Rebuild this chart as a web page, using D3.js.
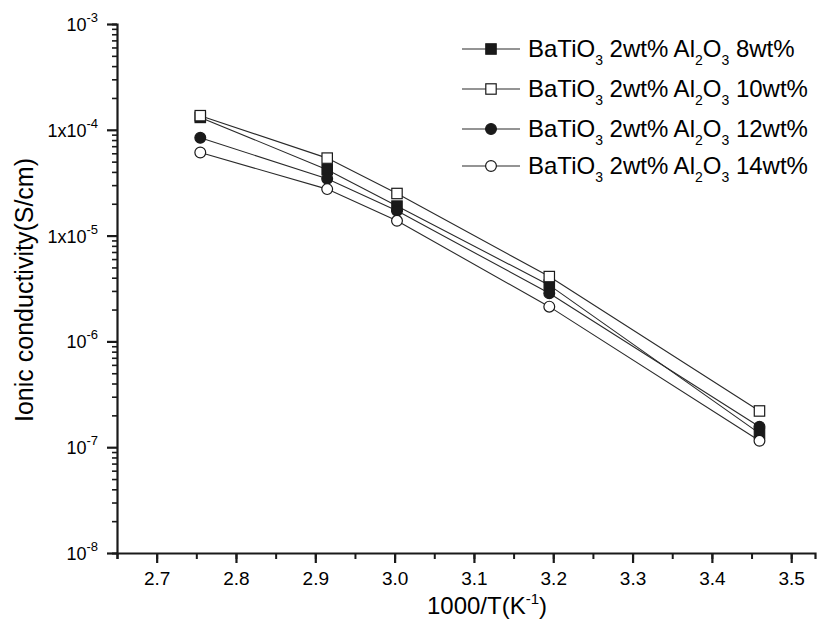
<!DOCTYPE html>
<html lang="en">
<head>
<meta charset="utf-8">
<title>ionic conductivity</title>
<script src="https://cdn.jsdelivr.net/npm/d3@7"></script>
<style>
  body { margin: 0; background: #fff; }
  svg, svg text { font-family: "Liberation Sans", Arial, sans-serif; }
  .axis path, .axis line { stroke: #1a1a1a; }
  .series path { fill: none; stroke: #2a2a2a; stroke-width: 1.1px; }
</style>
</head>
<body>
<svg id="chart" width="829" height="627"></svg>
<script>
// data
var invT = [2.755, 2.915, 3.003, 3.195, 3.46];
var s8   = [1.31e-4, 4.2e-5, 1.9e-5, 3.4e-6, 1.35e-7];
var s10  = [1.36e-4, 5.4e-5, 2.5e-5, 4.1e-6, 2.2e-7];
var s12  = [8.4e-5, 3.45e-5, 1.72e-5, 2.85e-6, 1.56e-7];
var s14  = [6.1e-5, 2.75e-5, 1.38e-5, 2.13e-6, 1.15e-7];
var seriesNames = ["8wt%", "10wt%", "12wt%", "14wt%"];
var xTicks = [2.7, 2.8, 2.9, 3.0, 3.1, 3.2, 3.3, 3.4, 3.5];
var yTickExp = [-3, -4, -5, -6, -7, -8];
var yTickPrefix = ["10", "1x10", "1x10", "10", "10", "10"];

var series = [
  {name: seriesNames[0], values: s8,  shape: "square", fill: "#1a1a1a"},
  {name: seriesNames[1], values: s10, shape: "square", fill: "#fff"},
  {name: seriesNames[2], values: s12, shape: "circle", fill: "#1a1a1a"},
  {name: seriesNames[3], values: s14, shape: "circle", fill: "#fff"}
];

var svg = d3.select("#chart");
var x = d3.scaleLinear().domain([2.65, 3.53]).range([117, 815]);
var y = d3.scaleLog().domain([1e-8, 1e-3]).range([553, 24]);

// x axis
var xMinor = d3.range(2.65, 3.53, 0.05).map(function(d){ return +d.toFixed(2); });
svg.append("g").attr("class", "axis")
  .attr("transform", "translate(0,553)")
  .call(d3.axisBottom(x).tickValues(xMinor).tickSize(6).tickFormat(""))
  .call(function(g){ g.select(".domain").attr("stroke-width", 2.2); g.selectAll("line").attr("stroke-width", 2); });
svg.append("g").attr("class", "axis")
  .attr("transform", "translate(0,553)")
  .call(d3.axisBottom(x).tickValues(xTicks).tickSize(10).tickPadding(9).tickFormat(d3.format(".1f")))
  .call(function(g){
    g.attr("font-family", null);
    g.select(".domain").remove();
    g.selectAll("line").attr("stroke-width", 2.2);
    g.selectAll("text").attr("font-size", 19).attr("fill", "#000");
  });

// y axis
var yMinor = [];
for (var e = -8; e < -3; e++) {
  for (var k = 2; k < 10; k++) yMinor.push(k * Math.pow(10, e));
}
svg.append("g").attr("class", "axis")
  .attr("transform", "translate(117,0)")
  .call(d3.axisLeft(y).tickValues(yMinor).tickSize(5).tickFormat(""))
  .call(function(g){ g.select(".domain").attr("stroke-width", 2.2); g.selectAll("line").attr("stroke-width", 1.6); });
svg.append("g").attr("class", "axis")
  .attr("transform", "translate(117,0)")
  .call(d3.axisLeft(y).tickValues(yTickExp.map(function(d){ return Math.pow(10, d); })).tickSize(10).tickFormat(""))
  .call(function(g){ g.select(".domain").remove(); g.selectAll("line").attr("stroke-width", 2.2); });

yTickExp.forEach(function(ex, i){
  var t = svg.append("text")
    .attr("x", 98).attr("y", y(Math.pow(10, ex)) + 7)
    .attr("text-anchor", "end").attr("font-size", 18).attr("fill", "#000");
  t.append("tspan").text(yTickPrefix[i]);
  t.append("tspan").attr("font-size", 13).attr("dy", -9).text(ex);
});

// axis titles
var xl = svg.append("text").attr("x", 487).attr("y", 614)
  .attr("text-anchor", "middle").attr("font-size", 24).attr("fill", "#000");
xl.append("tspan").text("1000/T(K");
xl.append("tspan").attr("font-size", 15).attr("dy", -10).text("-1");
xl.append("tspan").attr("dy", 10).text(")");

svg.append("text")
  .attr("transform", "translate(33,290) rotate(-90)")
  .attr("text-anchor", "middle").attr("font-size", 25).attr("fill", "#000")
  .text("Ionic conductivity(S/cm)");

// series
var line = d3.line().x(function(d){ return x(d[0]); }).y(function(d){ return y(d[1]); });

function marker(g, s, cx, cy) {
  if (s.shape === "square") {
    g.append("rect").attr("x", cx - 5.2).attr("y", cy - 5.2).attr("width", 10.4).attr("height", 10.4)
      .attr("fill", s.fill).attr("stroke", "#1a1a1a").attr("stroke-width", 1.2);
  } else {
    g.append("circle").attr("cx", cx).attr("cy", cy).attr("r", 5.4)
      .attr("fill", s.fill).attr("stroke", "#1a1a1a").attr("stroke-width", 1.2);
  }
}

series.forEach(function(s){
  var pts = invT.map(function(t, i){ return [t, s.values[i]]; });
  var g = svg.append("g").attr("class", "series");
  g.append("path").attr("d", line(pts));
  pts.forEach(function(p){ marker(g, s, x(p[0]), y(p[1])); });
});

// legend
var legY = [49, 89, 129, 166];
series.forEach(function(s, i){
  var g = svg.append("g").attr("class", "series").attr("transform", "translate(0," + legY[i] + ")");
  g.append("line").attr("x1", 462).attr("x2", 520).attr("y1", 0).attr("y2", 0)
    .attr("stroke", "#2a2a2a").attr("stroke-width", 1.1);
  marker(g, s, 491, 0);
  var t = g.append("text").attr("x", 528).attr("y", 8).attr("font-size", 24).attr("fill", "#000");
  t.append("tspan").text("BaTiO");
  t.append("tspan").attr("font-size", 14).attr("dy", 8).text("3");
  t.append("tspan").attr("dy", -8).text(" 2wt% Al");
  t.append("tspan").attr("font-size", 14).attr("dy", 8).text("2");
  t.append("tspan").attr("dy", -8).text("O");
  t.append("tspan").attr("font-size", 14).attr("dy", 8).text("3");
  t.append("tspan").attr("dy", -8).text(" " + s.name);
});
</script>
</body>
</html>
